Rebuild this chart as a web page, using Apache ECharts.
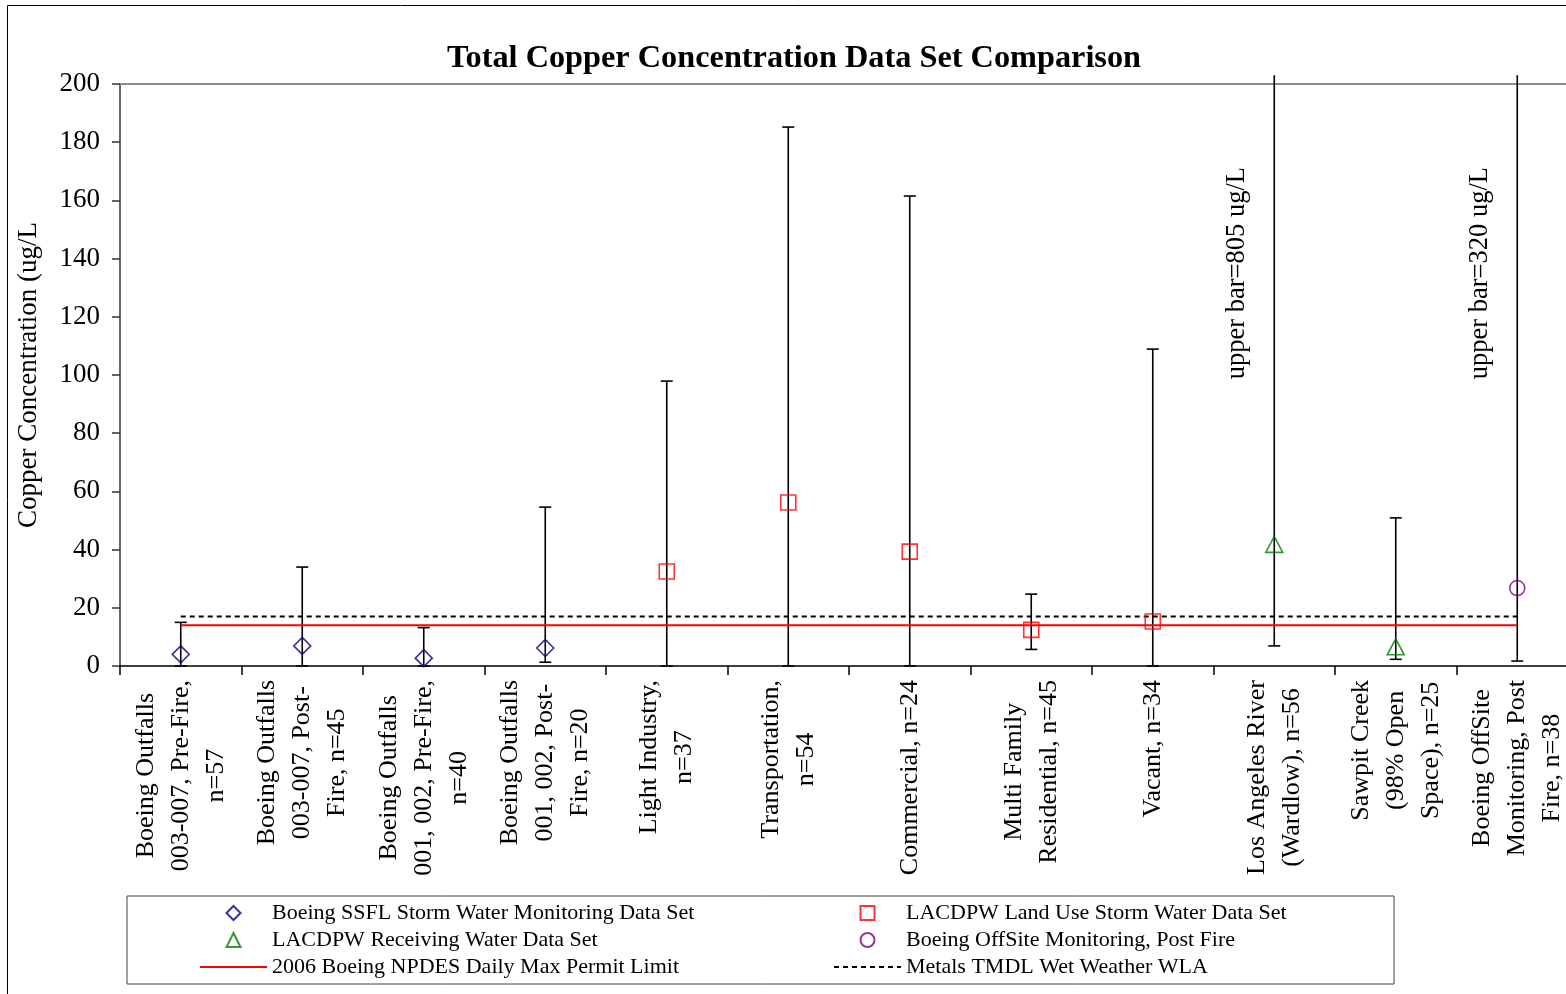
<!DOCTYPE html>
<html><head><meta charset="utf-8">
<script src="https://cdn.jsdelivr.net/npm/echarts@6/dist/echarts.min.js"></script>
<style>html,body{margin:0;padding:0;background:#fff;overflow:hidden;width:1566px;height:994px}#c{width:1578px;height:994px}</style>
</head><body><div id="c"></div>
<script>
// ---------- data ----------
const categories = [
  'Boeing Outfalls\n003-007, Pre-Fire,\nn=57',
  'Boeing Outfalls\n003-007, Post-\nFire, n=45',
  'Boeing Outfalls\n001, 002, Pre-Fire,\nn=40',
  'Boeing Outfalls\n001, 002, Post-\nFire, n=20',
  'Light Industry,\nn=37',
  'Transportation,\nn=54',
  'Commercial, n=24',
  'Multi Family\nResidential, n=45',
  'Vacant, n=34',
  'Los Angeles River\n(Wardlow), n=56',
  'Sawpit Creek\n(98% Open\nSpace), n=25',
  'Boeing OffSite\nMonitoring, Post\nFire, n=38'
];
const dataSetNames = [
  'Boeing SSFL Storm Water Monitoring Data Set',
  'LACDPW Land Use Storm Water Data Set',
  'LACDPW Receiving Water Data Set',
  'Boeing OffSite Monitoring, Post Fire'
];
const dataSetOfCategory = [0, 0, 0, 0, 1, 1, 1, 1, 1, 2, 2, 3];
const markerValues = [4, 6.9, 2.7, 6.2, 32.5, 56.2, 39.3, 12.4, 15.3, 41.8, 6.6, 26.8];
const lowValues    = [0, 0, 0, 1.3, 0, 0, 0, 5.7, 0, 6.9, 2.3, 1.7];
const highValues   = [15, 34, 13.2, 54.6, 97.9, 185.2, 161.5, 24.7, 108.9, 805, 50.9, 320];
const limitNames = ['2006 Boeing NPDES Daily Max Permit Limit', 'Metals TMDL Wet Weather WLA'];
const permitLimit = 14;
const tmdlWla = 17;
const yMin = 0, yMax = 200, yInterval = 20;

// ---------- styles ----------
const FONT = '"Liberation Serif", "Times New Roman", serif';
const markerStyles = [
  { symbol: 'path://M0,-1L1,0L0,1L-1,0Z', size: 17, color: '#000080' },
  { symbol: 'path://M-1,-1L1,-1L1,1L-1,1Z', size: 15, color: '#FF0000' },
  { symbol: 'path://M0,-1L1,1L-1,1Z', size: [17, 16], color: '#008000' },
  { symbol: 'circle', size: 15, color: '#800080' }
];

const chart = echarts.init(document.getElementById('c'), null, { renderer: 'canvas' });

const scatterSeries = dataSetNames.map((name, s) => ({
  name: name,
  type: 'scatter',
  z: 5,
  symbol: markerStyles[s].symbol,
  symbolSize: markerStyles[s].size,
  symbolKeepAspect: true,
  itemStyle: { color: 'rgba(255,255,255,0)', borderColor: markerStyles[s].color, borderWidth: 1.6 },
  emphasis: { disabled: true },
  data: categories.map((c, i) => dataSetOfCategory[i] === s ? [i, markerValues[i]] : null).filter(d => d)
}));

const errorData = categories.map((c, i) => [i, lowValues[i], highValues[i]]);

const errorSeries = {
  type: 'custom',
  z: 3,
  silent: true,
  clip: false,
  data: errorData,
  renderItem: function (params, api) {
    const i = api.value(0);
    const lo = api.value(1);
    const hi = api.value(2);
    const clipped = hi > yMax;
    const top = api.coord([i, clipped ? yMax + 3 : hi]);
    const bot = api.coord([i, lo]);
    const cap = 6;
    const ls = { stroke: '#000', lineWidth: 1.6 };
    const children = [
      { type: 'line', shape: { x1: top[0], y1: top[1], x2: bot[0], y2: bot[1] }, style: ls },
      { type: 'line', shape: { x1: bot[0] - cap, y1: bot[1], x2: bot[0] + cap, y2: bot[1] }, style: ls }
    ];
    if (!clipped) {
      children.push({ type: 'line', shape: { x1: top[0] - cap, y1: top[1], x2: top[0] + cap, y2: top[1] }, style: ls });
    } else {
      const p = api.coord([i, 135]);
      children.push({
        type: 'text',
        x: p[0] - 37, y: p[1], rotation: Math.PI / 2,
        style: { text: 'upper bar=' + hi + ' ug/L', font: '26.5px ' + FONT, fill: '#000', align: 'center', verticalAlign: 'middle' }
      });
    }
    return { type: 'group', children: children };
  }
};

const lineSeries = [
  { name: limitNames[0], value: permitLimit, color: '#FF0000', type: 'solid' },
  { name: limitNames[1], value: tmdlWla, color: '#000000', type: [5, 4] }
].map(l => ({
  name: l.name,
  type: 'line',
  z: 4,
  symbol: 'none',
  silent: true,
  lineStyle: { color: l.color, width: 2, type: l.type },
  itemStyle: { color: l.color },
  data: categories.map(() => l.value)
}));

const legendText = {
  fontFamily: FONT, fontSize: 22, color: '#000', lineHeight: 27,
  rich: { a: { width: 561, fontFamily: FONT, fontSize: 22, lineHeight: 27, color: '#000' } }
};
const legendCommon = {
  top: 896, orient: 'vertical',
  itemWidth: 67, itemHeight: 14, itemGap: 0,
  symbolKeepAspect: true,
  selectedMode: false,
  textStyle: legendText
};
const legendItem = name => limitNames.indexOf(name) >= 0 ? { name: name, itemStyle: { opacity: 0 } } : { name: name };

const option = {
  backgroundColor: '#ffffff',
  animation: false,
  title: {
    text: 'Total Copper Concentration Data Set Comparison',
    left: 789, textAlign: 'center', top: 38,
    textStyle: { fontFamily: FONT, fontSize: 32.3, fontWeight: 'bold', color: '#000' }
  },
  graphic: [{
    type: 'rect', silent: true,
    shape: { x: 7.5, y: 5.5, width: 1700, height: 1100 },
    style: { fill: 'none', stroke: '#000', lineWidth: 1 }
  }],
  legend: [
    Object.assign({}, legendCommon, {
      left: 127,
      padding: [3.5, 561, 3.5, 72],
      borderColor: '#404040', borderWidth: 1,
      formatter: name => '{a|' + name + '}',
      data: [dataSetNames[0], dataSetNames[2], limitNames[0]].map(legendItem)
    }),
    Object.assign({}, legendCommon, {
      left: 833,
      padding: [3.5, 0, 3.5, 0],
      data: [dataSetNames[1], dataSetNames[3], limitNames[1]].map(legendItem)
    })
  ],
  grid: { left: 120, top: 84, right: 0, bottom: 328, containLabel: false },
  xAxis: [{
    type: 'category',
    data: categories,
    boundaryGap: true,
    axisLine: { lineStyle: { color: '#000', width: 1.5 } },
    axisTick: { show: true, inside: false, length: 9, interval: 0, alignWithLabel: false, lineStyle: { color: '#000', width: 1.5 } },
    axisLabel: {
      interval: 0, rotate: 90, margin: 14, hideOverlap: false,
      fontFamily: FONT, fontSize: 26, color: '#000', lineHeight: 35,
      formatter: v => v.split('\n').map(s => '{c|' + s + '}').join('\n'),
      rich: { c: { align: 'center', fontFamily: FONT, fontSize: 26, lineHeight: 35, color: '#000' } }
    },
    splitLine: { show: false }
  }, {
    type: 'category',
    data: categories,
    position: 'top',
    axisLine: { show: true, lineStyle: { color: '#8c8c8c', width: 2 } },
    axisTick: { show: false },
    axisLabel: { show: false },
    splitLine: { show: false }
  }],
  yAxis: {
    type: 'value',
    min: yMin, max: yMax, interval: yInterval,
    name: 'Copper Concentration (ug/L',
    nameLocation: 'middle', nameGap: 78,
    nameTextStyle: { fontFamily: FONT, fontSize: 27, color: '#000' },
    axisLine: { show: true, lineStyle: { color: '#333', width: 1.5 } },
    axisTick: { show: true, length: 8, lineStyle: { color: '#333', width: 1.5 } },
    axisLabel: { fontFamily: FONT, fontSize: 27, color: '#000', margin: 20 },
    splitLine: { show: false }
  },
  series: [errorSeries].concat(lineSeries, scatterSeries)
};
chart.setOption(option);
</script></body></html>
